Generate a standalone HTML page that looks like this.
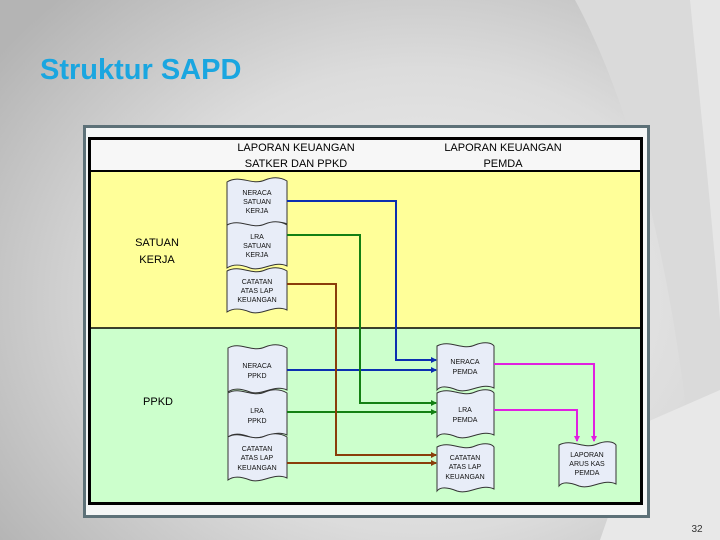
<!DOCTYPE html>
<html><head><meta charset="utf-8"><style>
html,body{margin:0;padding:0}
body{width:720px;height:540px;overflow:hidden;position:relative;
background:radial-gradient(ellipse 520px 420px at 420px 300px,#f2f2f2 0%,#dcdcdc 55%,#b4b4b4 100%);
font-family:"Liberation Sans",sans-serif}
</style></head><body>
<svg width="720" height="540" style="position:absolute;left:0;top:0">
<path d="M575,0 C640,120 680,300 700,540 L720,540 L720,0 Z" fill="#dadada"/>
<path d="M690,0 C700,100 715,250 720,320 L720,0Z" fill="#e6e6e6"/>
<path d="M640,425 L720,390 L720,540 L600,540 Z" fill="#e8e8e8"/>
<text x="40" y="79" font-family="Liberation Sans" font-size="29" font-weight="bold" fill="#1aa6e0">Struktur SAPD</text>
<rect x="84.5" y="126.5" width="564" height="390" fill="#f4f6f6" stroke="#5d7178" stroke-width="3"/>
<rect x="90" y="139" width="551" height="33" fill="#f7f7f7"/>
<rect x="90" y="172" width="551" height="156" fill="#ffff99"/>
<rect x="90" y="328" width="551" height="175" fill="#ccffcc"/>
<rect x="89.5" y="138.5" width="552" height="365" fill="none" stroke="#000" stroke-width="3"/>
<line x1="90" y1="171" x2="641" y2="171" stroke="#000" stroke-width="2"/>
<line x1="90" y1="328" x2="641" y2="328" stroke="#000" stroke-width="1.5"/>
<g font-size="11" fill="#000" text-anchor="middle">
<text x="296" y="151">LAPORAN KEUANGAN</text><text x="296" y="167">SATKER DAN PPKD</text>
<text x="503" y="151">LAPORAN KEUANGAN</text><text x="503" y="167">PEMDA</text>
<text x="157" y="246">SATUAN</text><text x="157" y="263">KERJA</text>
<text x="158" y="405">PPKD</text>
</g>
<defs>
<marker id="ab" markerWidth="6" markerHeight="6" refX="5" refY="3" orient="auto" markerUnits="userSpaceOnUse"><path d="M0,0L6,3L0,6z" fill="#0b2fb0"/></marker>
<marker id="ag" markerWidth="6" markerHeight="6" refX="5" refY="3" orient="auto" markerUnits="userSpaceOnUse"><path d="M0,0L6,3L0,6z" fill="#138013"/></marker>
<marker id="ar" markerWidth="6" markerHeight="6" refX="5" refY="3" orient="auto" markerUnits="userSpaceOnUse"><path d="M0,0L6,3L0,6z" fill="#8a3d0a"/></marker>
<marker id="am" markerWidth="6" markerHeight="6" refX="5" refY="3" orient="auto" markerUnits="userSpaceOnUse"><path d="M0,0L6,3L0,6z" fill="#e020e0"/></marker>
</defs>
<g fill="#e8edf8" stroke="#333" stroke-width="1">
<path d="M227,182 C240,174 252,186 265,180 C275,176 282,178 287,181 L287,224 C274,218 262,230 250,226 C240,222 233,222 227,226 Z"/>
<path d="M227,225 C240,218 252,230 265,224 C275,220 282,222 287,225 L287,266 C274,260 262,272 250,268 C240,264 233,264 227,268 Z"/>
<path d="M227,271 C240,264 252,276 265,270 C275,266 282,268 287,271 L287,310 C274,304 262,316 250,312 C240,308 233,308 227,312 Z"/>
<path d="M228,348 C240,341 252,353 265,347 C275,343 282,345 287,348 L287,390 C274,384 262,396 250,392 C240,388 233,388 228,392 Z"/>
<path d="M228,393 C240,386 252,398 265,392 C275,388 282,390 287,393 L287,435 C274,429 262,441 250,437 C240,433 233,433 228,437 Z"/>
<path d="M228,437 C240,430 252,442 265,436 C275,432 282,434 287,437 L287,478 C274,472 262,484 250,480 C240,476 233,476 228,480 Z"/>
<path d="M437,346 C450,339 462,351 475,345 C485,341 492,343 494,346 L494,388 C481,382 469,394 457,390 C447,386 440,386 437,390 Z"/>
<path d="M437,393 C450,386 462,398 475,392 C485,388 492,390 494,393 L494,435 C481,429 469,441 457,437 C447,433 440,433 437,437 Z"/>
<path d="M437,447 C450,440 462,452 475,446 C485,442 492,444 494,447 L494,489 C481,483 469,495 457,491 C447,487 440,487 437,491 Z"/>
<path d="M559,445 C572,438 584,450 597,444 C607,440 614,442 616,445 L616,484 C603,478 591,490 579,486 C569,482 562,482 559,486 Z"/>
</g>
<g font-size="7" fill="#111" text-anchor="middle">
<text x="257" y="195">NERACA</text><text x="257" y="204">SATUAN</text><text x="257" y="213">KERJA</text>
<text x="257" y="239">LRA</text><text x="257" y="248">SATUAN</text><text x="257" y="257">KERJA</text>
<text x="257" y="284">CATATAN</text><text x="257" y="293">ATAS LAP</text><text x="257" y="302">KEUANGAN</text>
<text x="257" y="368">NERACA</text><text x="257" y="378">PPKD</text>
<text x="257" y="413">LRA</text><text x="257" y="423">PPKD</text>
<text x="257" y="451">CATATAN</text><text x="257" y="460">ATAS LAP</text><text x="257" y="470">KEUANGAN</text>
<text x="465" y="364">NERACA</text><text x="465" y="374">PEMDA</text>
<text x="465" y="412">LRA</text><text x="465" y="422">PEMDA</text>
<text x="465" y="460">CATATAN</text><text x="465" y="469">ATAS LAP</text><text x="465" y="479">KEUANGAN</text>
<text x="587" y="457">LAPORAN</text><text x="587" y="466">ARUS KAS</text><text x="587" y="475">PEMDA</text>
</g>
<g fill="none" stroke-width="2">
<path d="M287,201 H396 V360 H436" stroke="#0b2fb0" marker-end="url(#ab)"/>
<path d="M287,370 H436" stroke="#0b2fb0" marker-end="url(#ab)"/>
<path d="M287,235 H360 V403 H436" stroke="#138013" marker-end="url(#ag)"/>
<path d="M287,412 H436" stroke="#138013" marker-end="url(#ag)"/>
<path d="M287,284 H336 V455 H436" stroke="#8a3d0a" marker-end="url(#ar)"/>
<path d="M287,463 H436" stroke="#8a3d0a" marker-end="url(#ar)"/>
<path d="M494,364 H594 V441" stroke="#e020e0" marker-end="url(#am)"/>
<path d="M494,410 H577 V441" stroke="#e020e0" marker-end="url(#am)"/>
</g>
<text x="697" y="532" font-size="10" fill="#333" text-anchor="middle">32</text>
</svg>
</body></html>
